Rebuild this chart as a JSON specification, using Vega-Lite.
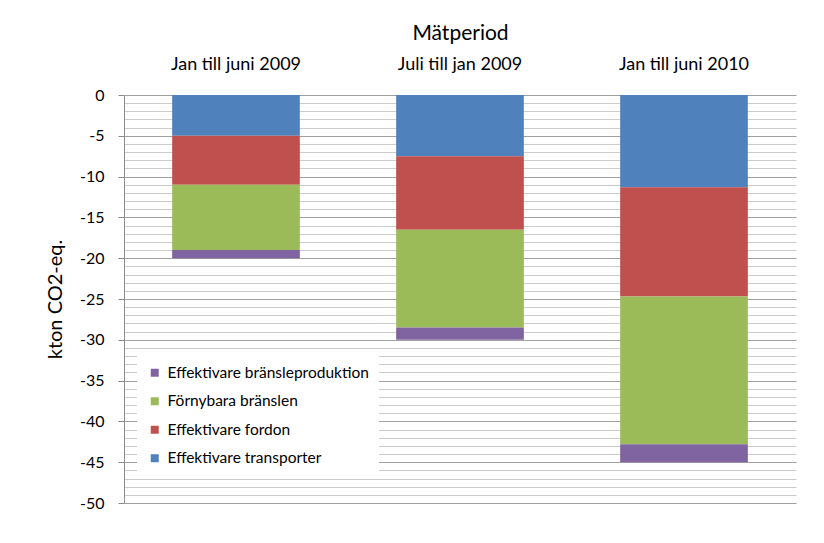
{
  "$schema": "https://vega.github.io/schema/vega-lite/v6.json",
  "width": 672,
  "height": 408,
  "autosize": {"type": "none"},
  "padding": {"left": 124, "top": 95, "right": 28, "bottom": 40},
  "background": "white",
  "config": {
    "font": "Lato",
    "view": {"stroke": null}
  },
  "data": {
    "values": [
      {"period": "Jan till juni 2009", "kategori": "Effektivare transporter", "ordning": 1, "kton": -5},
      {"period": "Jan till juni 2009", "kategori": "Effektivare fordon", "ordning": 2, "kton": -6},
      {"period": "Jan till juni 2009", "kategori": "Förnybara bränslen", "ordning": 3, "kton": -8},
      {"period": "Jan till juni 2009", "kategori": "Effektivare bränsleproduktion", "ordning": 4, "kton": -1},
      {"period": "Juli till jan 2009", "kategori": "Effektivare transporter", "ordning": 1, "kton": -7.5},
      {"period": "Juli till jan 2009", "kategori": "Effektivare fordon", "ordning": 2, "kton": -9},
      {"period": "Juli till jan 2009", "kategori": "Förnybara bränslen", "ordning": 3, "kton": -12},
      {"period": "Juli till jan 2009", "kategori": "Effektivare bränsleproduktion", "ordning": 4, "kton": -1.5},
      {"period": "Jan till juni 2010", "kategori": "Effektivare transporter", "ordning": 1, "kton": -11.3},
      {"period": "Jan till juni 2010", "kategori": "Effektivare fordon", "ordning": 2, "kton": -13.4},
      {"period": "Jan till juni 2010", "kategori": "Förnybara bränslen", "ordning": 3, "kton": -18.1},
      {"period": "Jan till juni 2010", "kategori": "Effektivare bränsleproduktion", "ordning": 4, "kton": -2.2}
    ]
  },
  "mark": {"type": "bar"},
  "encoding": {
    "x": {
      "field": "period",
      "type": "nominal",
      "sort": ["Jan till juni 2009", "Juli till jan 2009", "Jan till juni 2010"],
      "scale": {"paddingInner": 0.43, "paddingOuter": 0.215},
      "axis": {
        "orient": "top",
        "title": "Mätperiod",
        "titleFontSize": 21,
        "titleFontWeight": "normal",
        "titleColor": "#000",
        "titlePadding": 12,
        "labelAngle": 0,
        "labelFontSize": 18,
        "labelColor": "#000",
        "labelPadding": 22,
        "ticks": false,
        "domain": false
      }
    },
    "y": {
      "field": "kton",
      "type": "quantitative",
      "stack": "zero",
      "scale": {"domain": [-50, 0], "nice": false, "zero": true},
      "axis": {
        "title": "kton CO2-eq.",
        "titleFontSize": 20,
        "titleFontWeight": "normal",
        "titleColor": "#000",
        "titlePadding": 14,
        "values": [0, -1, -2, -3, -4, -5, -6, -7, -8, -9, -10, -11, -12, -13, -14, -15, -16, -17, -18, -19, -20, -21, -22, -23, -24, -25, -26, -27, -28, -29, -30, -31, -32, -33, -34, -35, -36, -37, -38, -39, -40, -41, -42, -43, -44, -45, -46, -47, -48, -49, -50],
        "labelExpr": "datum.value % 5 === 0 ? '' + datum.value : ''",
        "labelFontSize": 16,
        "labelColor": "#000",
        "labelPadding": 14,
        "labelOverlap": false,
        "labelFlush": false,
        "tickSize": 6,
        "tickColor": {"condition": {"test": "datum.value % 5 === 0", "value": "#8c8c8c"}, "value": "transparent"},
        "domainColor": "#8c8c8c",
        "grid": true,
        "gridColor": {"condition": {"test": "datum.value % 5 === 0", "value": "#a0a0a0"}, "value": "#cccccc"},
        "gridWidth": 1.2
      }
    },
    "color": {
      "field": "kategori",
      "type": "nominal",
      "scale": {
        "domain": ["Effektivare bränsleproduktion", "Förnybara bränslen", "Effektivare fordon", "Effektivare transporter"],
        "range": ["#8064A2", "#9BBB59", "#C0504D", "#4F81BD"]
      },
      "legend": {
        "title": null,
        "orient": "none",
        "legendX": 13,
        "legendY": 260,
        "fillColor": "white",
        "padding": 10,
        "symbolType": "square",
        "symbolSize": 64,
        "symbolStrokeWidth": 0,
        "labelFontSize": 15.5,
        "labelColor": "#000",
        "labelOffset": 5,
        "rowPadding": 11.5,
        "labelLimit": 300
      }
    },
    "order": {"field": "ordning", "type": "quantitative", "sort": "ascending"}
  }
}
